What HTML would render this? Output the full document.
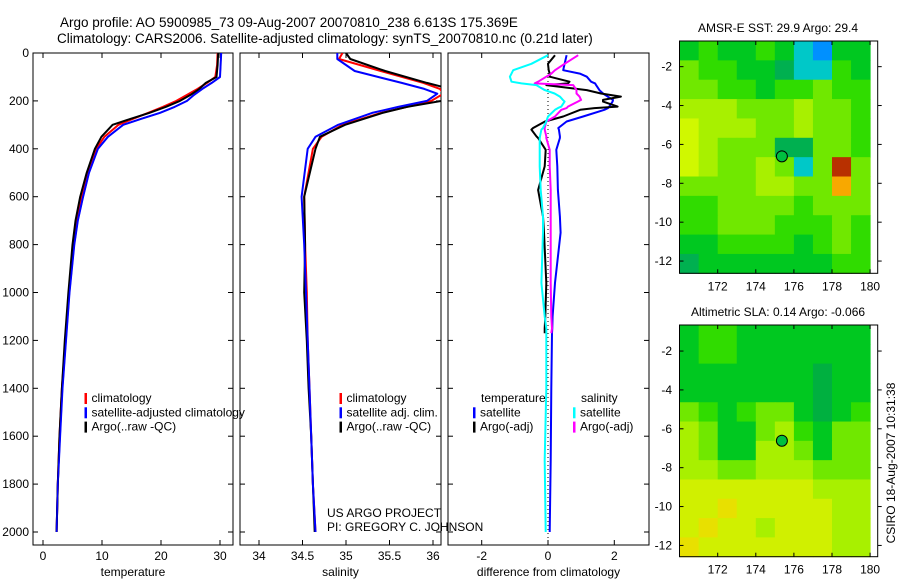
<!DOCTYPE html>
<html><head><meta charset="utf-8"><style>
html,body{margin:0;padding:0;background:#fff;}
svg{display:block;font-family:"Liberation Sans",sans-serif;}
</style></head><body>
<svg id="fig" width="900" height="580" viewBox="0 0 900 580" xmlns="http://www.w3.org/2000/svg">
<rect width="900" height="580" fill="#fff"/>
<text x="60" y="27" font-size="13.5">Argo profile: AO 5900985_73 09-Aug-2007 20070810_238 6.613S 175.369E</text>
<text x="57" y="43" font-size="13.5">Climatology: CARS2006. Satellite-adjusted climatology: synTS_20070810.nc (0.21d later)</text>
<g id="plots"></g>
</svg>
<script>
// ---- Profile data (depth in m) ----
const depths = [0,50,100,125,150,175,200,225,250,275,300,350,400,500,600,700,800,1000,1200,1400,1600,1800,2000];
const tempClim = [29.6,29.5,29.2,27.8,26.2,24.4,22.6,20.3,17.8,15.2,12.8,10.4,9.0,7.6,6.6,5.8,5.2,4.4,3.8,3.2,2.8,2.5,2.3];
const tempSat  = [30.2,30.1,30.0,28.6,27.0,25.6,24.4,22.3,19.8,16.6,13.6,11.0,9.3,7.8,6.8,5.9,5.3,4.5,3.9,3.3,2.9,2.5,2.3];
const tempArgo = [29.7,29.6,29.4,27.6,26.5,25.0,23.2,20.8,18.0,14.8,11.8,9.9,8.8,7.4,6.3,5.5,5.0,4.3,3.7,3.2,2.8,2.5,2.3];
const salDepths = [0,25,75,125,150,170,200,225,250,300,350,400,600,800,1000,1200,1400,1600,1800,2000];
const salClim = [34.96,34.92,35.40,35.89,36.08,36.12,35.98,35.70,35.40,34.96,34.72,34.62,34.52,34.53,34.55,34.56,34.58,34.60,34.62,34.65];
const salSat  = [34.90,34.90,35.10,35.64,35.90,36.05,35.93,35.60,35.30,34.91,34.65,34.56,34.49,34.52,34.54,34.56,34.58,34.60,34.62,34.65];
const salArgo = [35.00,35.05,35.45,35.93,36.20,36.30,36.10,35.70,35.42,34.99,34.70,34.65,34.52,34.53,34.52,34.55,34.57,34.60,34.62,34.64];
const diffDepths = [9,45,72,86,99,120,127,134,155,169,182,196,203,224,230,237,265,286,313,320,348,355,404,473,572,683,750,960,1100,1150,1170,1400,1700,2000];
const diffTempSat  = [0.56,0.5,0.46,0.96,1.17,1.3,1.42,1.45,1.55,1.66,1.8,1.96,1.95,1.85,1.81,1.7,1.06,0.56,0.31,0.33,0.36,0.36,0.25,0.28,0.3,0.36,0.38,0.21,0.14,0.13,0.12,0.1,0.08,0.05];
const diffTempArgo = [0.21,0.0,0.02,0.05,0.05,0.65,0.6,-0.05,1.17,1.6,2.2,1.66,1.66,2.1,1.4,0.97,0.46,-0.09,-0.45,-0.5,-0.35,-0.3,-0.07,-0.1,-0.3,-0.15,-0.12,-0.05,-0.08,-0.1,-0.1,null,null,null];
const diffSalSat   = [0.0,-0.5,-1.05,-1.1,-1.15,-1.1,-0.8,-0.35,-0.1,0.2,0.36,0.45,0.5,0.4,0.3,0.21,0.0,-0.05,-0.15,-0.2,-0.24,-0.25,-0.25,-0.25,-0.22,-0.15,-0.15,-0.2,-0.1,-0.05,-0.05,-0.05,-0.1,-0.07];
const diffSalArgo  = [0.91,0.5,0.21,0.1,-0.05,-0.3,-0.4,0.76,0.86,0.86,0.95,1.0,0.9,0.6,0.56,0.4,0.21,-0.05,-0.1,-0.1,-0.05,-0.05,0.05,0.05,0.08,0.08,0.08,0.08,0.1,0.12,0.1,null,null,null];
const depthTicks = [0,200,400,600,800,1000,1200,1400,1600,1800,2000];
const tempTicks = [0,10,20,30];
const salTicks = ["34","34.5","35","35.5","36"];
const diffTicks = [-2,0,2];
// ---- Map data (colour index 0..10 per ~1deg cell, rows top->bottom, cols 170->180) ----
const sstGrid = [
 [4,5,4,4,5,4,2,1,4,4],
 [6,5,5,4,4,3,2,2,5,4],
 [6,6,5,5,4,5,5,6,5,5],
 [7,7,7,6,6,6,7,6,6,5],
 [8,7,7,7,6,6,7,6,6,5],
 [8,7,6,6,6,3,3,6,6,5],
 [8,7,6,6,7,6,2,6,10,6],
 [6,6,6,6,7,7,6,6,9,6],
 [5,5,6,6,6,6,5,6,6,6],
 [5,5,6,6,6,5,5,5,6,5],
 [4,4,5,5,5,5,4,5,6,5],
 [3,4,4,4,4,4,4,4,5,5]];
const slaGrid = [
 [4,5,5,4,4,4,4,4,4,4],
 [4,5,5,4,4,4,4,4,4,4],
 [4,4,4,4,4,4,4,3,4,4],
 [4,4,4,4,4,4,4,3,4,4],
 [6,5,4,5,6,6,4,3,4,5],
 [7,6,4,4,6,7,5,4,6,6],
 [7,6,4,4,7,7,6,4,6,6],
 [7,7,6,6,7,7,7,6,6,6],
 [8,8,8,8,8,8,8,7,7,7],
 [8,8,9,8,8,8,8,8,7,7],
 [8,9,8,8,7,8,8,8,7,7],
 [9,8,8,8,8,8,8,8,7,7]];
const lonTicks = [172,174,176,178,180];
const latTicks = [-2,-4,-6,-8,-10,-12];
const floatLon = 175.369, floatLat = -6.613;

const NS='http://www.w3.org/2000/svg';
const root=document.getElementById('plots');
function mk(tag,attrs,parent){const e=document.createElementNS(NS,tag);for(const k in attrs)e.setAttribute(k,attrs[k]);(parent||root).appendChild(e);return e;}
function lin(d0,d1,r0,r1){return v=>r0+(v-d0)*(r1-r0)/(d1-d0);}
const yD = lin(0,2000,53,532);
const TOP=53,BOT=545;

function panel(name,left,right,xs,ticks,xlabel,showY){
  const g=mk('g',{});
  
  
  const cp=mk('clipPath',{id:'clip-'+name},g);
  mk('rect',{x:left,y:TOP,width:right-left,height:BOT-TOP},cp);
  const fr=mk('rect',{x:left,y:TOP,width:right-left,height:BOT-TOP,fill:'none',stroke:'#000','stroke-width':1},g);
  
  
  ticks.forEach(t=>{const x=xs(+t);
    mk('line',{x1:x,y1:BOT,x2:x,y2:BOT-5,stroke:'#000'},g);
    mk('line',{x1:x,y1:TOP,x2:x,y2:TOP+5,stroke:'#000'},g);
    const tx=mk('text',{x:x,y:560,'font-size':12,'text-anchor':'middle'},g);tx.textContent=t;
    
    
  });
  depthTicks.forEach(d=>{const y=yD(d);
    mk('line',{x1:left,y1:y,x2:left+5,y2:y,stroke:'#000'},g);
    mk('line',{x1:right,y1:y,x2:right-5,y2:y,stroke:'#000'},g);
    if(showY){const tx=mk('text',{x:29,y:y+4,'font-size':12,'text-anchor':'end'},g);tx.textContent=d;
      
      }
  });
  const xl=mk('text',{x:(left+right)/2,y:576,'font-size':12,'text-anchor':'middle'},g);xl.textContent=xlabel;
  
  
  return g;
}
function series(g,name,clip,xs,vals,ds,color,w){
  let p='';let pen=false;
  vals.forEach((v,i)=>{if(v===null){pen=false;return;}p+=(pen?'L':'M')+xs(v).toFixed(1)+','+yD(ds[i]).toFixed(1);pen=true;});
  const e=mk('path',{d:p,fill:'none',stroke:color,'stroke-width':w,'clip-path':'url(#clip-'+clip+')','stroke-linejoin':'round'},g);
  
  
}
function legend(g,x,y,items){
  items.forEach((it,i)=>{
    if(it.c){mk('rect',{x:x,y:y+i*14.3-9,width:2.5,height:11,fill:it.c},g);}
    const t=mk('text',{x:x+7,y:y+i*14.3,'font-size':12},g);t.textContent=it.t;
    
    
  });
}
// Panel 1
const xT=lin(0,30,43,220);
const g1=panel('temperature-panel',33,233,xT,tempTicks,'temperature',true);
series(g1,'temp-climatology-line','temperature-panel',xT,tempClim,depths,'#f00',2);
series(g1,'temp-satellite-line','temperature-panel',xT,tempSat,depths,'#00f',2);
series(g1,'temp-argo-line','temperature-panel',xT,tempArgo,depths,'#000',2);
series(g1,'temp-satellite-line-top','temperature-panel',xT,tempSat,depths,'#00f',1.5);
legend(g1,84.5,402,[{c:'#f00',t:'climatology'},{c:'#00f',t:'satellite-adjusted climatology'},{c:'#000',t:'Argo(..raw -QC)'}]);
// Panel 2
const xS=lin(34,36,259,433);
const g2=panel('salinity-panel',240,441,xS,salTicks,'salinity',false);
series(g2,'sal-climatology-line','salinity-panel',xS,salClim,salDepths,'#f00',2);
series(g2,'sal-argo-line','salinity-panel',xS,salArgo,salDepths,'#000',2);
series(g2,'sal-satellite-line','salinity-panel',xS,salSat,salDepths,'#00f',2);
legend(g2,339.5,402,[{c:'#f00',t:'climatology'},{c:'#00f',t:'satellite adj. clim.'},{c:'#000',t:'Argo(..raw -QC)'}]);
const cr1=mk('text',{x:327,y:517,'font-size':12},g2);cr1.textContent='US ARGO PROJECT';


const cr2=mk('text',{x:327,y:531,'font-size':12},g2);cr2.textContent='PI: GREGORY C. JOHNSON';


// Panel 3
const xDf=lin(0,2,548,614.3);
const g3=panel('difference-panel',448,649,xDf,diffTicks,'difference from climatology',false);
mk('line',{x1:xDf(0),y1:TOP,x2:xDf(0),y2:BOT,stroke:'#000','stroke-dasharray':'1,3'},g3);
series(g3,'diff-temp-satellite-line','difference-panel',xDf,diffTempSat,diffDepths,'#00f',2);
series(g3,'diff-temp-argo-line','difference-panel',xDf,diffTempArgo,diffDepths,'#000',2);
series(g3,'diff-sal-argo-line','difference-panel',xDf,diffSalArgo,diffDepths,'#f0f',2);
series(g3,'diff-sal-satellite-line','difference-panel',xDf,diffSalSat,diffDepths,'#0ff',2);
const lh1=mk('text',{x:481,y:402,'font-size':12},g3);lh1.textContent='temperature';


const lh2=mk('text',{x:581,y:402,'font-size':12},g3);lh2.textContent='salinity';


legend(g3,473,416.3,[{c:'#00f',t:'satellite'},{c:'#000',t:'Argo(-adj)'}]);
legend(g3,573,416.3,[{c:'#0ff',t:'satellite'},{c:'#f0f',t:'Argo(-adj)'}]);

// Maps
const sstCols=['#0000a0','#0090ff','#00c8c8','#00b050','#00c820','#30dc00','#70e800','#a8f000','#d0f800','#f8a800','#b83000'];
const slaCols=['#0000a0','#0090ff','#00c8c8','#00b040','#00c820','#30dc00','#70e800','#a8f000','#d0f000','#e8e000','#e8c000'];
function map(name,top,bot,grid,cols,title,latTop,latBot){
  const g=mk('g',{});
  
  
  const L=679.5,R=877.7;
  const xL=lin(170,180,679.6,870.1), yL=lin(latTop,latBot,top,bot);
  const nr=grid.length;
  grid.forEach((row,r)=>row.forEach((v,c)=>{
    const y0=yL(latTop+(latBot-latTop)*r/nr), y1=yL(latTop+(latBot-latTop)*(r+1)/nr);
    const cell=mk('rect',{x:xL(170+c),y:y0,width:xL(171)-xL(170)+0.5,height:y1-y0+0.5,fill:cols[v]},g);
    
    
  }));
  const fr=mk('rect',{x:L,y:top,width:R-L,height:bot-top,fill:'none',stroke:'#000'},g);
  
  
  lonTicks.forEach(t=>{const x=xL(t);
    mk('line',{x1:x,y1:bot,x2:x,y2:bot-4,stroke:'#000'},g);
    mk('line',{x1:x,y1:top,x2:x,y2:top+4,stroke:'#000'},g);
    const tx=mk('text',{x:x,y:bot+17,'font-size':12,'text-anchor':'middle'},g);tx.textContent=t;
    
    
  });
  latTicks.forEach(t=>{const y=yL(t);
    mk('line',{x1:L,y1:y,x2:L+4,y2:y,stroke:'#000'},g);
    mk('line',{x1:R,y1:y,x2:R+4,y2:y,stroke:'#000'},g);
    const tx=mk('text',{x:672,y:y+4,'font-size':12,'text-anchor':'end'},g);tx.textContent=t;
    
    
  });
  const ti=mk('text',{x:778,y:top-9,'font-size':12,'text-anchor':'middle'},g);ti.textContent=title;
  
  
  const m=mk('circle',{cx:xL(floatLon),cy:yL(floatLat),r:5.5,fill:'#00c040',stroke:'#000','stroke-width':1},g);
  
  
}
map('sst-map',41,273.3,sstGrid,sstCols,'AMSR-E SST: 29.9 Argo: 29.4',-0.68,-12.63);
map('sla-map',325,556.7,slaGrid,slaCols,'Altimetric SLA: 0.14 Argo: -0.066',-0.66,-12.58);
const cs=mk('text',{x:0,y:0,'font-size':12,'text-anchor':'middle',transform:'translate(895,463) rotate(-90)'});
cs.textContent='CSIRO 18-Aug-2007 10:31:38';


</script>
</body></html>
